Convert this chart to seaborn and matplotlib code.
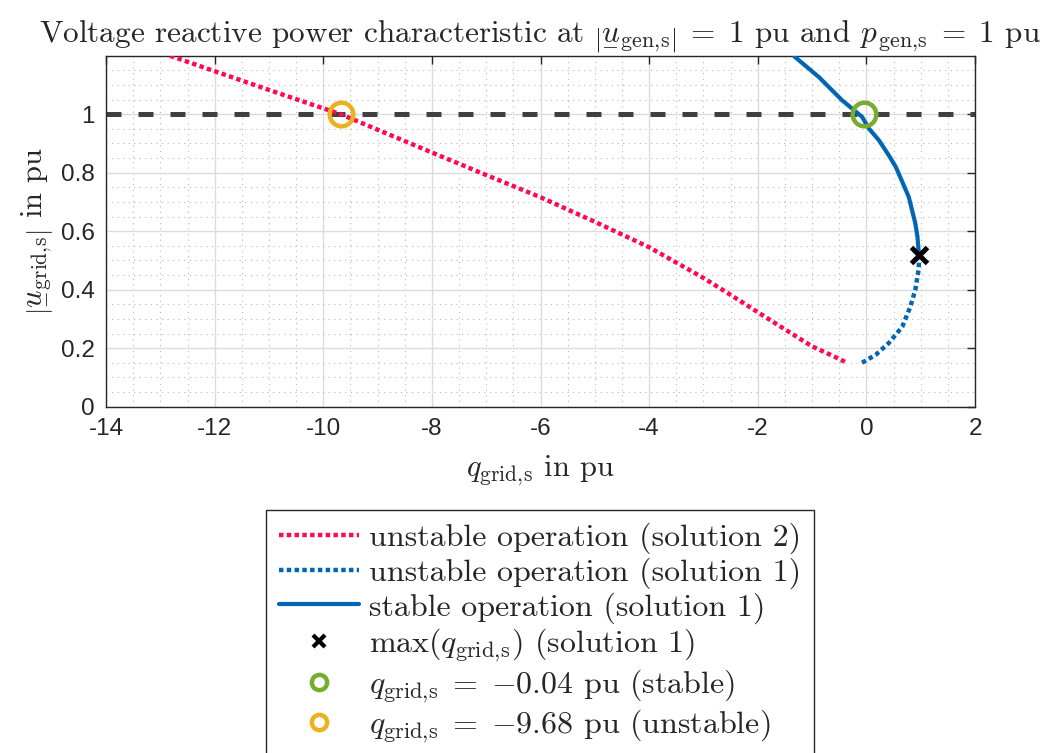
import numpy as np
import pandas as pd
import matplotlib
matplotlib.use("Agg")
import matplotlib.pyplot as plt
import seaborn as sns
from matplotlib.lines import Line2D
from matplotlib.ticker import FixedLocator, FixedFormatter, MultipleLocator

# ---------------- data ----------------
red_q = [-12.82, -12.0, -11.0, -10.0, -9.68, -9.0, -8.0, -7.0, -6.0, -5.0,
         -4.0, -3.0, -2.5, -2.0, -1.55, -1.0, -0.6, -0.36]
red_u = [1.20, 1.147, 1.083, 1.02, 1.00, 0.947, 0.869, 0.792, 0.716, 0.632,
         0.545, 0.440, 0.382, 0.323, 0.270, 0.206, 0.172, 0.150]

blue_dot_q = [-0.08, 0.17, 0.41, 0.66, 0.81, 0.90, 0.96, 0.975]
blue_dot_u = [0.150, 0.177, 0.217, 0.273, 0.342, 0.399, 0.467, 0.518]

blue_sol_q = [0.975, 0.96, 0.94, 0.90, 0.84, 0.78, 0.66, 0.54, 0.41, 0.23,
              0.045, -0.08, -0.45, -0.875, -1.33]
blue_sol_u = [0.518, 0.535, 0.581, 0.627, 0.672, 0.717, 0.769, 0.820, 0.860,
              0.911, 0.951, 0.991, 1.048, 1.127, 1.198]

max_q, max_u = [0.975], [0.518]
stable_q, stable_u = [-0.04], [1.0]
unstable_q, unstable_u = [-9.68], [1.0]
ref_u = 1.0

xticks = [-14, -12, -10, -8, -6, -4, -2, 0, 2]
xticklabels = ["-14", "-12", "-10", "-8", "-6", "-4", "-2", "0", "2"]
yticks = [0, 0.2, 0.4, 0.6, 0.8, 1.0]
yticklabels = ["0", "0.2", "0.4", "0.6", "0.8", "1"]

# ---------------- style ----------------
sns.set_style("white")
plt.rcParams["font.family"] = ["cmr10", "DejaVu Serif"]
plt.rcParams["mathtext.fontset"] = "cm"
plt.rcParams["axes.unicode_minus"] = False

from matplotlib.mathtext import MathTextParser


def ul(ch):
    for s in (r"\underline{%s}" % ch, r"\underset{-}{%s}" % ch):
        try:
            MathTextParser("agg").parse("$" + s + "$", dpi=100)
            return s
        except Exception:
            pass
    return r"\bar{%s}" % ch


RED = "#FF0A50"
BLUE = "#0066B3"
GREEN = "#77AC30"
ORANGE = "#EDB120"
DGRAY = "#404040"
AX = "#262626"

fig = plt.figure(figsize=(10.5, 7.53), dpi=100)
ax = fig.add_axes([0.101, 0.46, 0.8276, 0.466])

df_red = pd.DataFrame({"q": red_q, "u": red_u})
df_bd = pd.DataFrame({"q": blue_dot_q, "u": blue_dot_u})
df_bs = pd.DataFrame({"q": blue_sol_q, "u": blue_sol_u})

ax.axhline(ref_u, color=DGRAY, lw=3.6, linestyle=(0, (3, 3.4)), zorder=2)

DOT = (0, (1, 0.75))
sns.lineplot(data=df_red, x="q", y="u", sort=False, estimator=None, ax=ax,
             color=RED, lw=3.2, legend=False)
sns.lineplot(data=df_bd, x="q", y="u", sort=False, estimator=None, ax=ax,
             color=BLUE, lw=3.2, legend=False)
sns.lineplot(data=df_bs, x="q", y="u", sort=False, estimator=None, ax=ax,
             color=BLUE, lw=3.0, legend=False)
lines = ax.get_lines()
lines[1].set_linestyle(DOT)
lines[2].set_linestyle(DOT)
for ln in lines[1:]:
    ln.set_dash_capstyle("butt")
    ln.set_solid_joinstyle("round")
    ln.set_zorder(3)

ax.plot(max_q, max_u, linestyle="none", marker="x", ms=12, mew=3.6,
        color="black", zorder=5)
ax.plot(stable_q, stable_u, linestyle="none", marker="o", ms=17,
        mew=3.2, mfc="none", mec=GREEN, zorder=5)
ax.plot(unstable_q, unstable_u, linestyle="none", marker="o", ms=17,
        mew=3.2, mfc="none", mec=ORANGE, zorder=5)

ax.set_xlim(-14, 2)
ax.set_ylim(0, 1.2)
ax.xaxis.set_major_locator(FixedLocator(xticks))
ax.xaxis.set_major_formatter(FixedFormatter(xticklabels))
ax.yaxis.set_major_locator(FixedLocator(yticks))
ax.yaxis.set_major_formatter(FixedFormatter(yticklabels))
ax.xaxis.set_minor_locator(MultipleLocator(0.5))
ax.yaxis.set_minor_locator(MultipleLocator(0.05))

ax.grid(True, which="major", color="#dcdcdc", lw=1.0, linestyle="-")
ax.grid(True, which="minor", color="#b8b8b8", lw=0.8, linestyle=(0, (1, 4)))
ax.set_axisbelow(True)

for s in ax.spines.values():
    s.set_color(AX)
    s.set_linewidth(1.0)
    s.set_visible(True)
ax.tick_params(which="major", direction="in", length=6, width=1.0,
               color=AX, top=True, right=True, labelsize=17.5,
               labelcolor=AX, pad=8)
ax.tick_params(which="minor", length=0)
for lab in ax.get_xticklabels() + ax.get_yticklabels():
    lab.set_fontfamily("Liberation Sans")

SUB_GRID = r"_{\mathrm{grid,\!s}}"
SUB_GEN = r"_{\mathrm{gen,\!s}}"

ax.set_xlabel(r"$q" + SUB_GRID + r"$ in pu", fontsize=22, labelpad=10)
ax.set_ylabel(r"$\left|" + ul("u") + SUB_GRID + r"\right|$ in pu",
              fontsize=22, labelpad=4)
ax.set_title(r"Voltage reactive power characteristic at $\left|" + ul("u") +
             SUB_GEN + r"\right|\;=\;1$ pu and $" + ul("p") +
             SUB_GEN + r"\;=\;1$ pu", fontsize=22.5, pad=13)

labels = [
    "unstable operation (solution 2)",
    "unstable operation (solution 1)",
    "stable operation (solution 1)",
    r"max$(q" + SUB_GRID + r")$ (solution 1)",
    r"$q" + SUB_GRID + r"\;=\;{-}0.04$ pu (stable)",
    r"$q" + SUB_GRID + r"\;=\;{-}9.68$ pu (unstable)",
]
handles = [
    Line2D([], [], color=RED, lw=3.2, linestyle=DOT, dash_capstyle="butt"),
    Line2D([], [], color=BLUE, lw=3.2, linestyle=DOT, dash_capstyle="butt"),
    Line2D([], [], color=BLUE, lw=3.0),
    Line2D([], [], linestyle="none", marker="x", ms=8, mew=3.0, color="black"),
    Line2D([], [], linestyle="none", marker="o", ms=11, mew=3.2,
           mfc="none", mec=GREEN),
    Line2D([], [], linestyle="none", marker="o", ms=11, mew=3.2,
           mfc="none", mec=ORANGE),
]
leg = fig.legend(handles, labels, loc="upper center",
                 bbox_to_anchor=(540 / 1050, 1 - 510 / 753),
                 bbox_transform=fig.transFigure, fontsize=23,
                 frameon=True, fancybox=False, edgecolor=AX,
                 framealpha=1, handlelength=2.5, handletextpad=0.3,
                 labelspacing=0.1, borderpad=0.4, borderaxespad=0)
leg.get_frame().set_linewidth(1.0)

fig.savefig("out.png", dpi=100)
